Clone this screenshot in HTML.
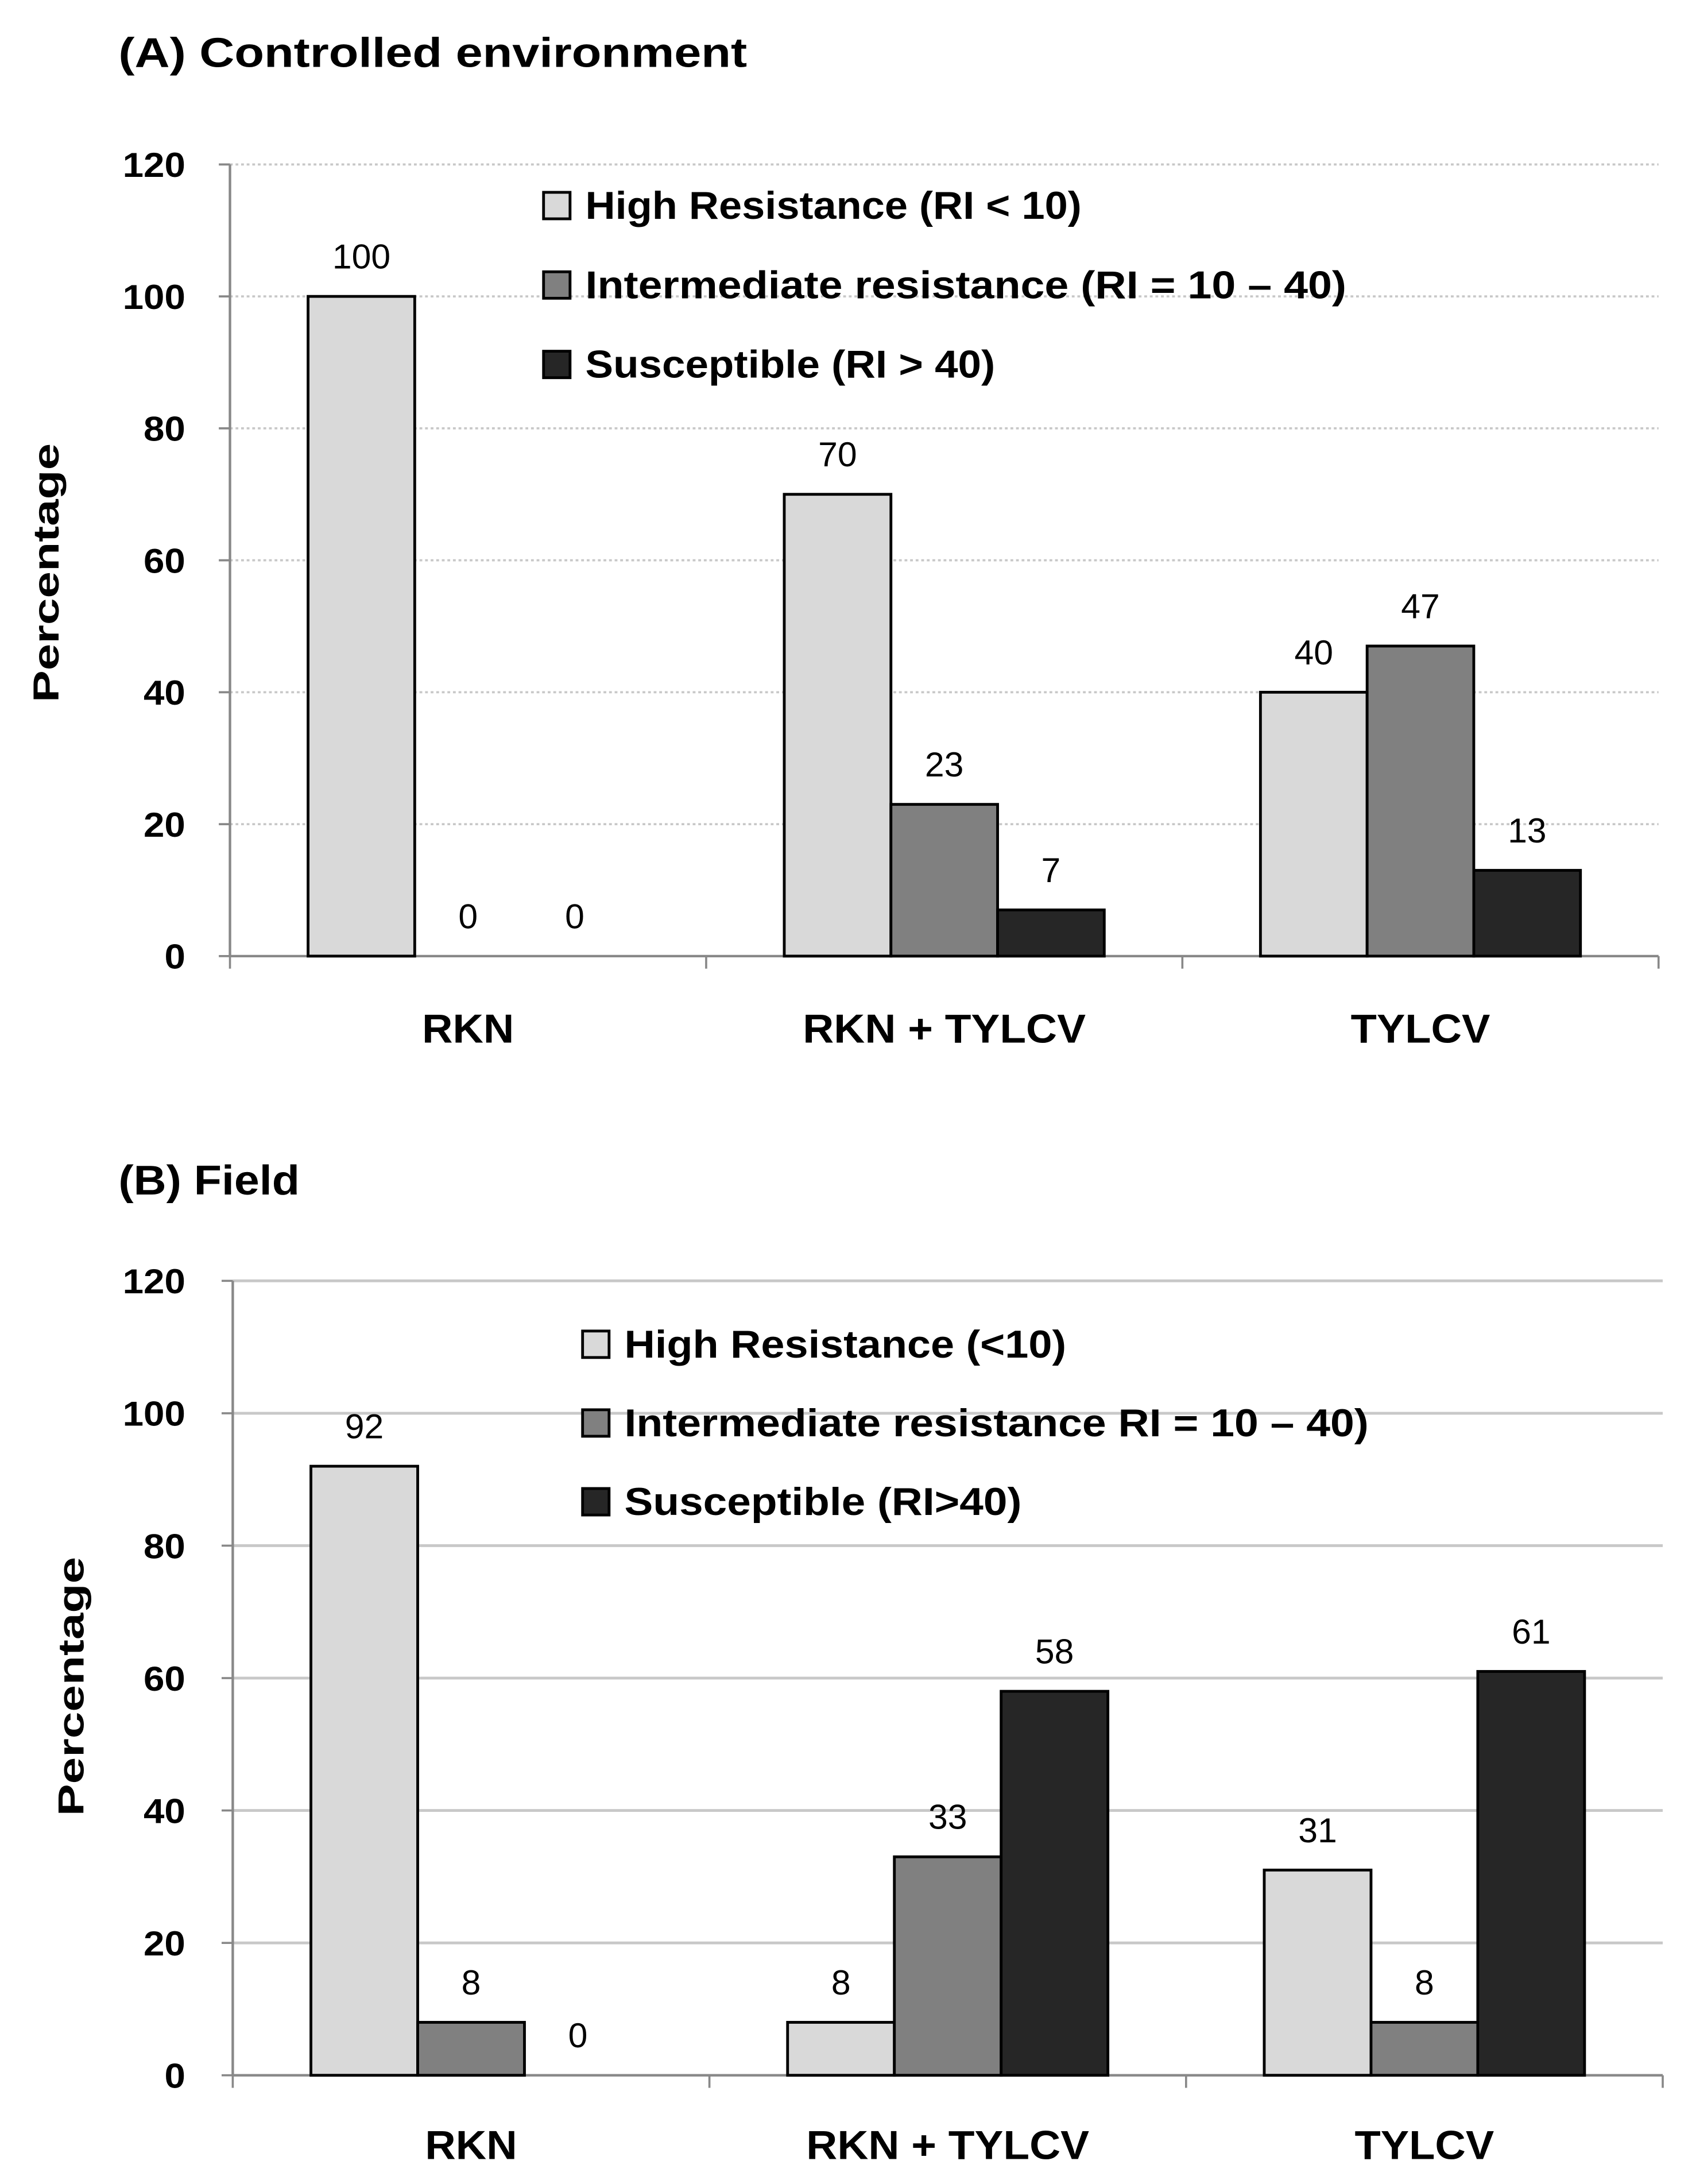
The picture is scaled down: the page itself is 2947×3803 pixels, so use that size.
<!DOCTYPE html>
<html><head><meta charset="utf-8"><style>
html,body{margin:0;padding:0;background:#fff;}
svg{display:block;}
text{font-family:"Liberation Sans",sans-serif;}
</style></head><body>
<svg id="fig" width="2947" height="3803" viewBox="0 0 1214 1567" preserveAspectRatio="none" xmlns="http://www.w3.org/2000/svg"></svg>
<script>
const categories = ["RKN", "RKN + TYLCV", "TYLCV"];
const yTicks = [0, 20, 40, 60, 80, 100, 120];
const controlledHigh = [100, 70, 40];
const controlledInter = [0, 23, 47];
const controlledSusc = [0, 7, 13];
const fieldHigh = [92, 8, 31];
const fieldInter = [8, 33, 8];
const fieldSusc = [0, 58, 61];
const legendA = ["High Resistance (RI < 10)", "Intermediate resistance (RI = 10 – 40)", "Susceptible (RI > 40)"];
const legendB = ["High Resistance (<10)", "Intermediate resistance RI = 10 – 40)", "Susceptible (RI>40)"];

const NS = "http://www.w3.org/2000/svg";
const svg = document.getElementById("fig");
const fills = ["#d9d9d9", "#808080", "#262626"];

function mk(tag, attrs, parent, txt) {
  const e = document.createElementNS(NS, tag);
  for (const k in attrs) e.setAttribute(k, attrs[k]);
  if (txt !== undefined) e.textContent = txt;
  (parent || svg).appendChild(e);
  return e;
}

function panel(cfg) {
  const g = mk("g", {});
  
  
  const x0 = cfg.x0, x1 = cfg.x1, y0 = cfg.y0, yTop = cfg.yTop;
  const yScale = v => y0 - (v / 120) * (y0 - yTop);
  const groupW = (x1 - x0) / categories.length;
  const barW = groupW * 0.224;
  const xBar = (ci, si) => x0 + ci * groupW + groupW / 2 - 1.5 * barW + si * barW;

  const t = mk("text", {x: 85, y: cfg.titleY, "font-size": 30, "font-weight": "bold", textLength: cfg.titleW, lengthAdjust: "spacingAndGlyphs", fill: "#000"}, g, cfg.title);
  
  

  yTicks.forEach(v => {
    const y = yScale(v);
    if (v > 0) {
      const gl = mk("line", {x1: x0, x2: x1, y1: y, y2: y, stroke: "#c8c8c8", "stroke-width": cfg.dotted ? 1.5 : 2, "stroke-dasharray": cfg.dotted ? "2 2" : "none"}, g);
      
      
    }
    mk("line", {x1: x0 - 8, x2: x0, y1: y, y2: y, stroke: "#888", "stroke-width": 1.5}, g);
    const s = String(v);
    const tl = mk("text", {x: 133, y: y + 9, "font-size": 25, "font-weight": "bold", "text-anchor": "end", textLength: s.length * 15, lengthAdjust: "spacingAndGlyphs", fill: "#000"}, g, s);
    
    
  });

  const ya = mk("line", {x1: x0, x2: x0, y1: yTop, y2: y0, stroke: "#888", "stroke-width": 1.8}, g);
  
  
  const xa = mk("line", {x1: x0, x2: x1, y1: y0, y2: y0, stroke: "#888", "stroke-width": 1.8}, g);
  
  
  for (let i = 0; i <= categories.length; i++) {
    mk("line", {x1: x0 + i * groupW, x2: x0 + i * groupW, y1: y0, y2: y0 + 9, stroke: "#888", "stroke-width": 1.5}, g);
  }

  const yt = mk("text", {x: 0, y: 0, "font-size": 26, "font-weight": "bold", "text-anchor": "middle", textLength: 186, lengthAdjust: "spacingAndGlyphs", transform: `translate(${cfg.yTitleX},${cfg.yTitleY}) rotate(-90)`, fill: "#000"}, g, "Percentage");
  
  

  const catW = [66, 203, 100];
  categories.forEach((c, ci) => {
    const cl = mk("text", {x: x0 + ci * groupW + groupW / 2, y: cfg.catY, "font-size": 29, "font-weight": "bold", "text-anchor": "middle", textLength: catW[ci], lengthAdjust: "spacingAndGlyphs", fill: "#000"}, g, c);
    
    
  });

  cfg.series.forEach((arr, si) => {
    arr.forEach((v, ci) => {
      const x = xBar(ci, si), y = yScale(v);
      if (v > 0) {
        const b = mk("rect", {x: x, y: y, width: barW, height: y0 - y, fill: fills[si], stroke: "#000", "stroke-width": 2}, g);
        
        
      }
      const vl = mk("text", {x: x + barW / 2, y: y - 20, "font-size": 25, "text-anchor": "middle", fill: "#000"}, g, String(v));
      
      
    });
  });

  cfg.legend.forEach((lab, i) => {
    const ly = cfg.legY + i * cfg.legStep;
    const sw = mk("rect", {x: cfg.legX, y: ly - 9, width: 19, height: 19, fill: fills[i], stroke: "#000", "stroke-width": 2}, g);
    
    
    const lt = mk("text", {x: cfg.legX + 30, y: ly + 10, "font-size": 28, "font-weight": "bold", textLength: cfg.legW[i], lengthAdjust: "spacingAndGlyphs", fill: "#000"}, g, lab);
    
    
  });
}

panel({name: "chart-controlled", title: "(A) Controlled environment", titleY: 48, titleW: 451,
  x0: 165, x1: 1190, y0: 686, yTop: 118, dotted: true, yTitleX: 42, yTitleY: 411, catY: 748,
  series: [controlledHigh, controlledInter, controlledSusc], legend: legendA,
  legX: 390, legY: 147, legStep: 57, legW: [356, 546, 294]});

panel({name: "chart-field", title: "(B) Field", titleY: 857, titleW: 130,
  x0: 167, x1: 1193, y0: 1489, yTop: 919, dotted: false, yTitleX: 60, yTitleY: 1210, catY: 1549,
  series: [fieldHigh, fieldInter, fieldSusc], legend: legendB,
  legX: 418, legY: 964, legStep: 56.5, legW: [317, 534, 285]});
</script>
</body></html>
